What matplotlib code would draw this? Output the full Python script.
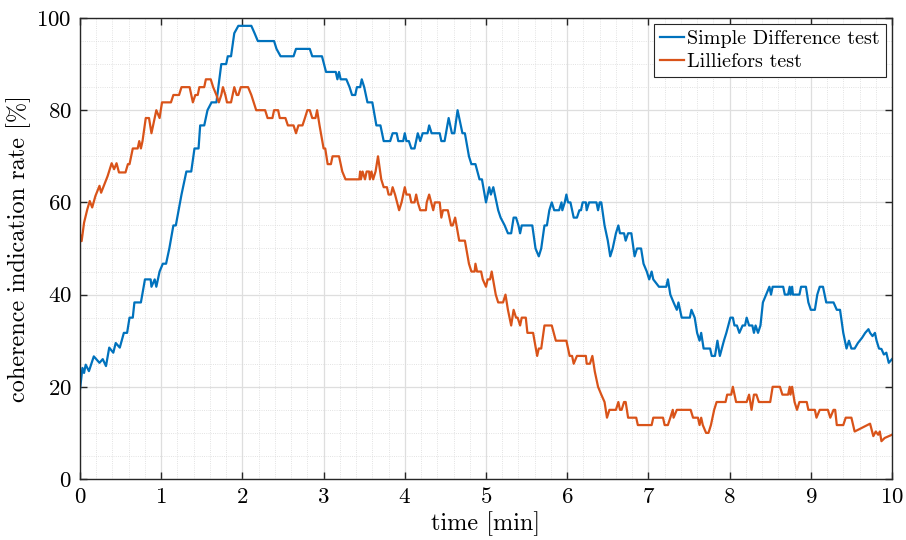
import numpy as np
import matplotlib
matplotlib.use("Agg")
import matplotlib.pyplot as plt
from matplotlib.ticker import MultipleLocator

plt.rcParams['font.family'] = 'serif'
plt.rcParams['font.serif'] = ['cmr10']
plt.rcParams['mathtext.fontset'] = 'cm'
plt.rcParams['axes.formatter.use_mathtext'] = True

# Simple Difference test (time in min, rate in %)
sd_time = [0.00, 0.03, 0.05, 0.07, 0.11, 0.17, 0.24, 0.28, 0.32, 0.36, 0.41, 0.44, 0.49,
           0.54, 0.58, 0.61, 0.65, 0.67, 0.75, 0.80, 0.87, 0.88, 0.92, 0.94, 0.98, 1.02,
           1.06, 1.10, 1.15, 1.18, 1.25, 1.31, 1.37, 1.41, 1.46, 1.48, 1.53, 1.57, 1.62,
           1.68, 1.74, 1.80, 1.82, 1.86, 1.90, 1.95, 2.11, 2.15, 2.19, 2.39, 2.42, 2.47,
           2.63, 2.66, 2.83, 2.86, 2.98, 3.03, 3.15, 3.17, 3.19, 3.21, 3.28, 3.32, 3.35,
           3.39, 3.41, 3.45, 3.47, 3.50, 3.54, 3.60, 3.65, 3.70, 3.74, 3.82, 3.85, 3.90,
           3.92, 3.98, 4.00, 4.02, 4.05, 4.08, 4.12, 4.16, 4.19, 4.22, 4.28, 4.30, 4.33,
           4.43, 4.45, 4.49, 4.54, 4.58, 4.61, 4.65, 4.71, 4.74, 4.79, 4.82, 4.87, 4.92,
           4.95, 5.00, 5.04, 5.06, 5.09, 5.15, 5.18, 5.23, 5.27, 5.31, 5.34, 5.37, 5.40,
           5.42, 5.44, 5.57, 5.61, 5.65, 5.68, 5.72, 5.75, 5.78, 5.81, 5.84, 5.90, 5.93,
           5.94, 5.97, 5.99, 6.01, 6.04, 6.06, 6.08, 6.12, 6.15, 6.17, 6.19, 6.23, 6.24,
           6.27, 6.36, 6.38, 6.40, 6.42, 6.46, 6.50, 6.53, 6.56, 6.60, 6.63, 6.65, 6.70,
           6.72, 6.75, 6.79, 6.83, 6.86, 6.91, 6.94, 6.98, 7.01, 7.04, 7.06, 7.13, 7.22,
           7.24, 7.27, 7.31, 7.35, 7.37, 7.41, 7.51, 7.53, 7.57, 7.60, 7.63, 7.65, 7.68,
           7.76, 7.78, 7.82, 7.85, 7.88, 7.93, 7.96, 8.01, 8.04, 8.06, 8.09, 8.12, 8.16,
           8.19, 8.21, 8.24, 8.28, 8.30, 8.32, 8.35, 8.38, 8.41, 8.45, 8.49, 8.51, 8.53,
           8.66, 8.68, 8.72, 8.74, 8.75, 8.77, 8.78, 8.86, 8.88, 8.94, 8.97, 9.00, 9.05,
           9.08, 9.11, 9.15, 9.17, 9.19, 9.28, 9.32, 9.36, 9.40, 9.44, 9.47, 9.50, 9.54,
           9.58, 9.63, 9.67, 9.71, 9.73, 9.76, 9.79, 9.81, 9.84, 9.87, 9.90, 9.93, 9.96,
           10.0]
sd_rate = [19.4, 24.1, 23.0, 24.8, 23.4, 26.6, 25.2, 26.0, 24.5, 28.5, 27.4, 29.5, 28.5,
           31.7, 31.7, 35.0, 35.0, 38.3, 38.3, 43.3, 43.3, 41.7, 43.3, 41.7, 45.0, 46.7,
           46.7, 50.0, 55.0, 55.0, 61.7, 66.7, 66.7, 71.7, 71.7, 76.7, 76.7, 80.0, 81.7,
           81.7, 90.0, 90.0, 91.7, 91.7, 96.7, 98.3, 98.3, 96.7, 95.0, 95.0, 93.3, 91.7,
           91.7, 93.3, 93.3, 91.7, 91.7, 88.3, 88.3, 86.7, 88.3, 86.7, 86.7, 85.0, 83.3,
           83.3, 85.0, 85.0, 86.7, 85.0, 81.7, 81.7, 76.7, 76.7, 73.3, 73.3, 75.0, 75.0,
           73.3, 73.3, 75.0, 73.3, 73.3, 71.7, 71.7, 75.0, 73.3, 75.0, 75.0, 76.7, 75.0,
           75.0, 73.3, 73.3, 78.3, 75.0, 75.0, 80.0, 75.0, 75.0, 70.0, 68.3, 68.3, 65.0,
           65.0, 60.0, 63.3, 61.7, 63.3, 58.3, 56.7, 55.0, 53.3, 53.3, 56.7, 56.7, 55.0,
           53.3, 55.0, 55.0, 50.0, 48.3, 50.0, 55.0, 55.0, 58.3, 60.0, 58.3, 58.3, 60.0,
           58.3, 60.0, 61.7, 60.0, 60.0, 58.3, 56.7, 56.7, 58.3, 58.3, 60.0, 60.0, 58.3,
           60.0, 60.0, 58.3, 60.0, 60.0, 55.0, 51.7, 48.3, 50.0, 53.3, 55.0, 53.3, 53.3,
           51.7, 53.3, 53.3, 48.3, 50.0, 50.0, 46.7, 45.0, 43.3, 45.0, 43.3, 41.7, 41.7,
           43.3, 40.0, 38.3, 36.7, 38.3, 35.0, 35.0, 36.7, 35.0, 31.7, 30.0, 31.7, 28.3,
           28.3, 26.7, 26.7, 30.0, 26.7, 30.0, 31.7, 35.0, 35.0, 33.3, 33.3, 31.7, 33.3,
           33.3, 35.0, 33.3, 33.3, 31.7, 33.3, 31.7, 33.3, 38.3, 40.0, 41.7, 40.0, 41.7,
           41.7, 40.0, 40.0, 41.7, 40.0, 41.7, 40.0, 40.0, 41.7, 41.7, 38.3, 36.7, 36.7,
           40.0, 41.7, 41.7, 40.0, 38.3, 38.3, 36.7, 36.7, 31.7, 28.3, 30.0, 28.3, 28.3,
           29.5, 30.6, 31.7, 32.5, 31.7, 31.0, 31.7, 30.0, 28.3, 28.2, 27.0, 27.4, 25.2,
           26.0]

# Lilliefors test
lf_time = [0.00, 0.02, 0.05, 0.09, 0.12, 0.15, 0.19, 0.24, 0.26, 0.30, 0.34, 0.39, 0.42,
           0.45, 0.48, 0.56, 0.59, 0.61, 0.65, 0.71, 0.73, 0.75, 0.77, 0.81, 0.85, 0.88,
           0.94, 0.98, 1.01, 1.12, 1.15, 1.22, 1.25, 1.35, 1.39, 1.42, 1.45, 1.47, 1.53,
           1.55, 1.61, 1.64, 1.68, 1.71, 1.74, 1.76, 1.79, 1.81, 1.86, 1.90, 1.93, 1.95,
           1.98, 2.07, 2.11, 2.17, 2.28, 2.31, 2.37, 2.39, 2.44, 2.46, 2.53, 2.56, 2.63,
           2.66, 2.69, 2.74, 2.77, 2.80, 2.83, 2.86, 2.90, 2.92, 2.95, 3.00, 3.02, 3.05,
           3.09, 3.11, 3.19, 3.23, 3.27, 3.44, 3.45, 3.46, 3.48, 3.51, 3.53, 3.56, 3.57,
           3.59, 3.61, 3.64, 3.67, 3.71, 3.74, 3.78, 3.80, 3.83, 3.85, 3.88, 3.93, 3.96,
           4.00, 4.02, 4.06, 4.08, 4.12, 4.14, 4.16, 4.19, 4.26, 4.27, 4.30, 4.35, 4.37,
           4.43, 4.45, 4.47, 4.53, 4.57, 4.59, 4.62, 4.67, 4.74, 4.79, 4.82, 4.86, 4.87,
           4.89, 4.94, 4.96, 5.00, 5.02, 5.05, 5.07, 5.12, 5.15, 5.21, 5.24, 5.27, 5.31,
           5.34, 5.37, 5.39, 5.42, 5.44, 5.49, 5.51, 5.58, 5.63, 5.65, 5.68, 5.72, 5.81,
           5.86, 5.99, 6.03, 6.06, 6.08, 6.12, 6.23, 6.24, 6.28, 6.31, 6.34, 6.38, 6.42,
           6.46, 6.49, 6.52, 6.60, 6.63, 6.65, 6.67, 6.70, 6.72, 6.75, 6.85, 6.87, 7.04,
           7.06, 7.18, 7.20, 7.24, 7.27, 7.30, 7.31, 7.35, 7.52, 7.55, 7.61, 7.63, 7.65,
           7.67, 7.71, 7.74, 7.77, 7.81, 7.84, 7.95, 7.97, 8.02, 8.04, 8.06, 8.08, 8.21,
           8.24, 8.27, 8.30, 8.33, 8.36, 8.50, 8.53, 8.62, 8.65, 8.72, 8.74, 8.75, 8.77,
           8.80, 8.83, 8.86, 8.95, 8.97, 9.05, 9.07, 9.11, 9.21, 9.24, 9.28, 9.30, 9.32,
           9.40, 9.43, 9.50, 9.54, 9.73, 9.77, 9.80, 9.83, 9.85, 9.87, 9.91, 10.0]
lf_rate = [53.1, 51.6, 55.6, 58.5, 60.3, 58.9, 61.4, 63.6, 62.1, 63.9, 65.7, 68.5, 67.2,
           68.5, 66.5, 66.5, 68.3, 68.3, 71.7, 71.7, 73.3, 71.7, 73.3, 78.3, 78.3, 75.0,
           80.0, 78.3, 81.7, 81.7, 83.3, 83.3, 85.0, 85.0, 81.7, 83.3, 83.3, 85.0, 85.0,
           86.7, 86.7, 85.0, 83.3, 81.7, 83.3, 85.0, 83.3, 81.7, 81.7, 85.0, 83.3, 83.3,
           85.0, 85.0, 83.3, 80.0, 80.0, 78.3, 78.3, 80.0, 80.0, 78.3, 78.3, 76.7, 76.7,
           75.0, 76.7, 76.7, 78.3, 80.0, 80.0, 78.3, 78.3, 80.0, 76.7, 71.7, 71.7, 68.3,
           68.3, 70.0, 70.0, 66.7, 65.0, 65.0, 66.7, 65.0, 66.7, 65.0, 66.7, 66.7, 65.0,
           66.7, 65.0, 66.7, 70.0, 65.0, 63.3, 63.3, 61.7, 61.7, 63.3, 61.7, 58.3, 60.0,
           63.3, 61.7, 61.7, 60.0, 60.0, 61.7, 60.0, 58.3, 58.3, 60.0, 61.7, 58.3, 60.0,
           60.0, 56.7, 58.3, 58.3, 55.0, 55.0, 56.7, 51.7, 51.7, 46.7, 45.0, 45.0, 46.7,
           45.0, 45.0, 43.3, 41.7, 43.3, 43.3, 45.0, 40.0, 38.3, 38.3, 40.0, 36.7, 33.3,
           36.7, 35.0, 35.0, 33.3, 35.0, 35.0, 31.7, 31.7, 26.7, 28.3, 28.3, 33.3, 33.3,
           30.0, 30.0, 26.7, 26.7, 25.0, 26.7, 26.7, 25.0, 25.0, 26.7, 23.3, 20.0, 18.3,
           16.7, 13.3, 15.0, 15.0, 16.7, 15.0, 15.0, 16.7, 16.7, 13.3, 13.3, 11.7, 11.7,
           13.3, 13.3, 11.7, 11.7, 13.3, 15.0, 13.3, 15.0, 15.0, 13.3, 13.3, 11.7, 13.3,
           11.7, 10.0, 10.0, 11.7, 15.0, 16.7, 16.7, 18.3, 18.3, 20.0, 18.3, 16.7, 16.7,
           18.3, 15.0, 18.3, 18.3, 16.7, 16.7, 20.0, 20.0, 18.3, 18.3, 20.0, 18.3, 20.0,
           16.7, 15.0, 16.7, 16.7, 15.0, 15.0, 13.3, 15.0, 15.0, 13.3, 15.0, 15.0, 11.7,
           11.7, 13.3, 13.3, 10.3, 12.0, 9.3, 10.3, 9.6, 10.3, 8.2, 8.9, 9.6]

fig = plt.figure(figsize=(9.06, 5.40), dpi=100)
ax = fig.add_axes([80 / 906, 1 - 479 / 540, 812 / 906, 461 / 540])

ax.plot(sd_time, sd_rate, color='#0072BD', lw=1.6, label='Simple Difference test')
ax.plot(lf_time, lf_rate, color='#D95319', lw=1.6, label='Lilliefors test')

ax.set_xlim(0, 10)
ax.set_ylim(0, 100)
ax.xaxis.set_major_locator(MultipleLocator(1))
ax.xaxis.set_minor_locator(MultipleLocator(0.2))
ax.yaxis.set_major_locator(MultipleLocator(20))
ax.yaxis.set_minor_locator(MultipleLocator(5))

# matlab-like grid: solid major, dotted minor
ax.grid(which='major', color='#dedede', lw=0.9, ls='-')
ax.grid(which='minor', color='#d9d9d9', lw=0.6, ls=':')
ax.set_axisbelow(True)

ax.tick_params(which='major', direction='in', length=5, width=1, top=True, right=True,
               labelsize=16.5, color='#262626', pad=6)
ax.tick_params(which='minor', length=0, top=True, right=True)
for s in ax.spines.values():
    s.set_color('#262626')
    s.set_linewidth(1)

ax.set_xlabel('time [min]', fontsize=17.5, labelpad=3)
ax.set_ylabel('coherence indication rate [%]', fontsize=17.5, labelpad=4)

leg = ax.legend(loc='upper right', fontsize=14.5, handlelength=1.2, handletextpad=0.15,
                borderpad=0.3, labelspacing=0.25, fancybox=False, framealpha=1,
                borderaxespad=0.3)
leg.get_frame().set_edgecolor('#262626')
leg.get_frame().set_linewidth(0.8)

fig.savefig('out.png', dpi=100)
